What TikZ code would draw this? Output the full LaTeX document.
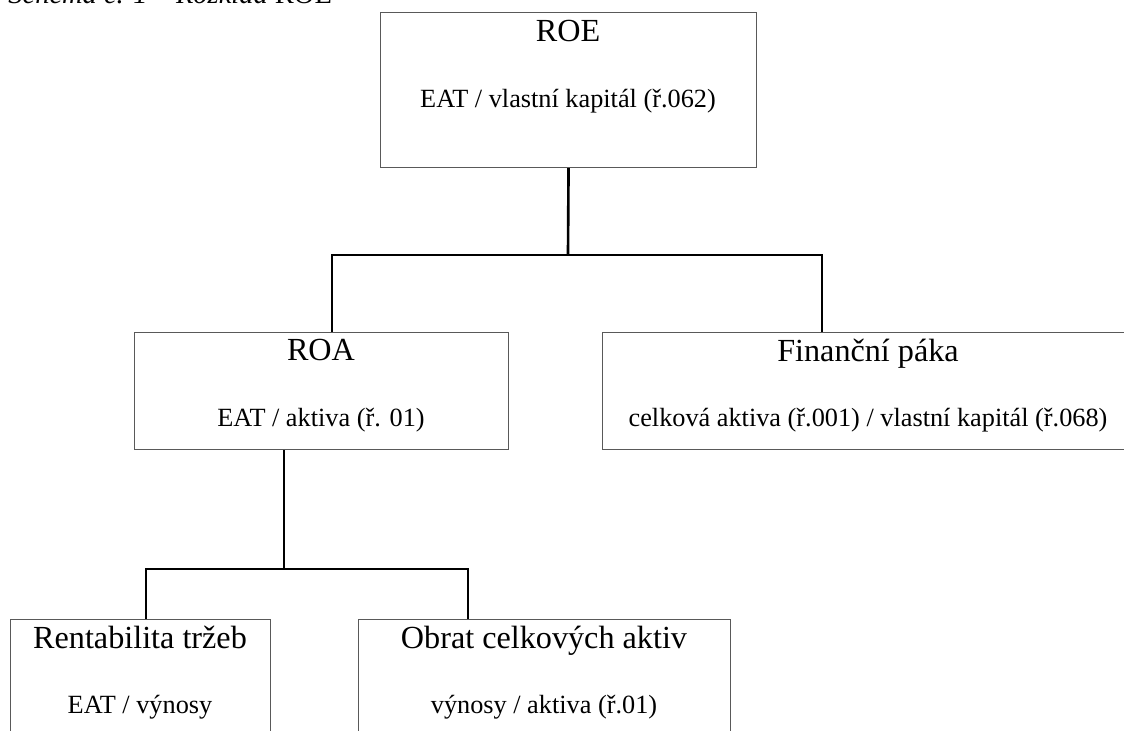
\documentclass[tikz,border=0pt]{standalone}
\usepackage{fontspec}
\setmainfont{Liberation Serif}
\newlength{\pxu}
\setlength{\pxu}{0.4566pt}
\definecolor{boxgray}{gray}{0.35}
\tikzset{
    box/.style={rectangle, draw=boxgray, line width=0.5pt, anchor=north west, inner sep=0pt},
    heading/.style={anchor=base, font=\fontsize{14.7}{17}\selectfont},
    formula/.style={anchor=base, font=\fontsize{12}{14}\selectfont},
    caption/.style={anchor=base west, inner sep=0pt, font=\fontsize{13}{15}\selectfont},
    link/.style={draw=black, line width=1.2pt}
}
\begin{document}
\begin{tikzpicture}[x=\pxu, y=-\pxu]
    \path[use as bounding box, clip] (0,0) rectangle (1124,731);

    \node[caption] (caption) at (8,4) {\textit{Schéma č. 1 – Rozklad} ROE};

    % boxes
    \node[box, minimum width={376*\pxu}, minimum height={155*\pxu}] (roe) at (380,12) {};
    \node[box, minimum width={374*\pxu}, minimum height={117*\pxu}] (roa) at (134,332) {};
    \node[box, minimum width={532*\pxu}, minimum height={117*\pxu}] (paka) at (602,332) {};
    \node[box, minimum width={260*\pxu}, minimum height={117*\pxu}] (trzby) at (10,619) {};
    \node[box, minimum width={372*\pxu}, minimum height={117*\pxu}] (obrat) at (358,619) {};

    % texts
    \node[heading] (roe-h) at (568,42) {ROE};
    \node[formula] (roe-f) at (568,108) {EAT / vlastní kapitál (ř.062)};
    \node[heading] (roa-h) at (321,361) {ROA};
    \node[formula] (roa-f) at (321,427) {EAT / aktiva (ř. 01)};
    \node[heading] (paka-h) at (868,362) {Finanční páka};
    \node[formula] (paka-f) at (868,427) {celková aktiva (ř.001) / vlastní kapitál (ř.068)};
    \node[heading] (trzby-h) at (140,648) {Rentabilita tržeb};
    \node[formula] (trzby-f) at (140,713) {EAT / výnosy};
    \node[heading] (obrat-h) at (544,648) {Obrat celkových aktiv};
    \node[formula] (obrat-f) at (544,713) {výnosy / aktiva (ř.01)};

    % connectors
    \coordinate (roe-j) at (568,255);
    \coordinate (top-l) at (332,255);
    \coordinate (top-r) at (822,255);
    \coordinate (roa-j) at (284,569);
    \coordinate (mid-l) at (146,569);
    \coordinate (mid-r) at (468,569);

    \draw[link] (roe.south) -- (roe-j);
    \draw[link] (roa.north -| top-l) -- (top-l) -- (top-r) -- (paka.north -| top-r);
    \draw[link] (roa.south -| roa-j) -- (roa-j);
    \draw[link] (trzby.north -| mid-l) -- (mid-l) -- (mid-r) -- (obrat.north -| mid-r);
\end{tikzpicture}
\end{document}
